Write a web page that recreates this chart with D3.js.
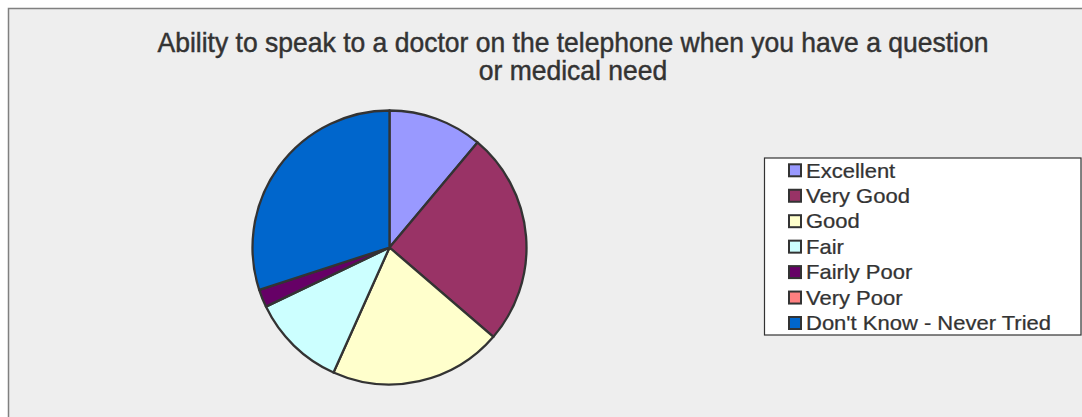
<!DOCTYPE html>
<html>
<head>
<meta charset="utf-8">
<script src="https://cdn.jsdelivr.net/npm/d3@7"></script>
<style>
  html, body { margin: 0; padding: 0; background: #ffffff; }
  svg { display: block; }
  text { font-family: "Liberation Sans", Arial, sans-serif; fill: #333333; }
</style>
</head>
<body>
<svg id="chart" width="1082" height="417"></svg>
<script>
// Survey responses (percent of respondents)
const titleLines = [
  "Ability to speak to a doctor on the telephone when you have a question",
  "or medical need"
];
const categories = ["Excellent", "Very Good", "Good", "Fair", "Fairly Poor", "Very Poor", "Don't Know - Never Tried"];
const values = [11.1, 25.2, 20.4, 11.2, 2.1, 0, 30.0];
const colors = ["#9999FF", "#993366", "#FFFFCC", "#CCFFFF", "#660066", "#FF8080", "#0066CC"];

const W = 1082, H = 417;
const svg = d3.select("#chart");

// Chart area panel
svg.append("rect")
  .attr("x", 8.5).attr("y", 8.5)
  .attr("width", W + 10).attr("height", H + 10)
  .attr("fill", "#EEEEEE")
  .attr("stroke", "#808080")
  .attr("stroke-width", 1.5);

// Title (two centred lines, narrow glyphs)
const titleX = 573;
const title = svg.append("g");
title.selectAll("text")
  .data(titleLines)
  .join("text")
  .attr("x", 0)
  .attr("y", (d, i) => 52 + i * 28.5)
  .attr("text-anchor", "middle")
  .attr("font-size", 27)
  .attr("stroke", "#333333")
  .attr("stroke-width", 0.45)
  .text(d => d);

// Squeeze the title to its line width
const w1 = title.select("text").node().getComputedTextLength();
title.attr("transform", `translate(${titleX},0) scale(${831 / w1},1)`);

// Pie
const cx = 389.5, cy = 247.5, r = 137;
const pie = d3.pie().sort(null).value(d => d.v);
const arc = d3.arc().innerRadius(0).outerRadius(r);
const data = categories.map((c, i) => ({ c, v: values[i], col: colors[i] }));

const g = svg.append("g").attr("transform", `translate(${cx},${cy})`);
g.selectAll("path")
  .data(pie(data).filter(d => d.data.v > 0))
  .join("path")
  .attr("d", arc)
  .attr("fill", d => d.data.col)
  .attr("stroke", "#333333")
  .attr("stroke-width", 2.3)
  .attr("stroke-linejoin", "round");

// Legend
const lx = 764, ly = 157.5, lw = 316.5, lh = 177;
const legend = svg.append("g");
legend.append("rect")
  .attr("x", lx + 0.5).attr("y", ly + 0.5)
  .attr("width", lw).attr("height", lh)
  .attr("fill", "#ffffff")
  .attr("stroke", "#333333")
  .attr("stroke-width", 1.2);

const rowY = d3.scalePoint().domain(categories).range([170.3, 323]);
const items = legend.selectAll("g.item")
  .data(data)
  .join("g")
  .attr("class", "item")
  .attr("transform", d => `translate(0,${rowY(d.c)})`);

items.append("rect")
  .attr("x", 789).attr("y", -6)
  .attr("width", 12).attr("height", 12)
  .attr("fill", d => d.col)
  .attr("stroke", "#333333")
  .attr("stroke-width", 2);

items.append("text")
  .attr("transform", "translate(806,7.2) scale(1.1,1)")
  .attr("font-size", 20)
  .attr("stroke", "#333333")
  .attr("stroke-width", 0.25)
  .text(d => d.c);
</script>
</body>
</html>
